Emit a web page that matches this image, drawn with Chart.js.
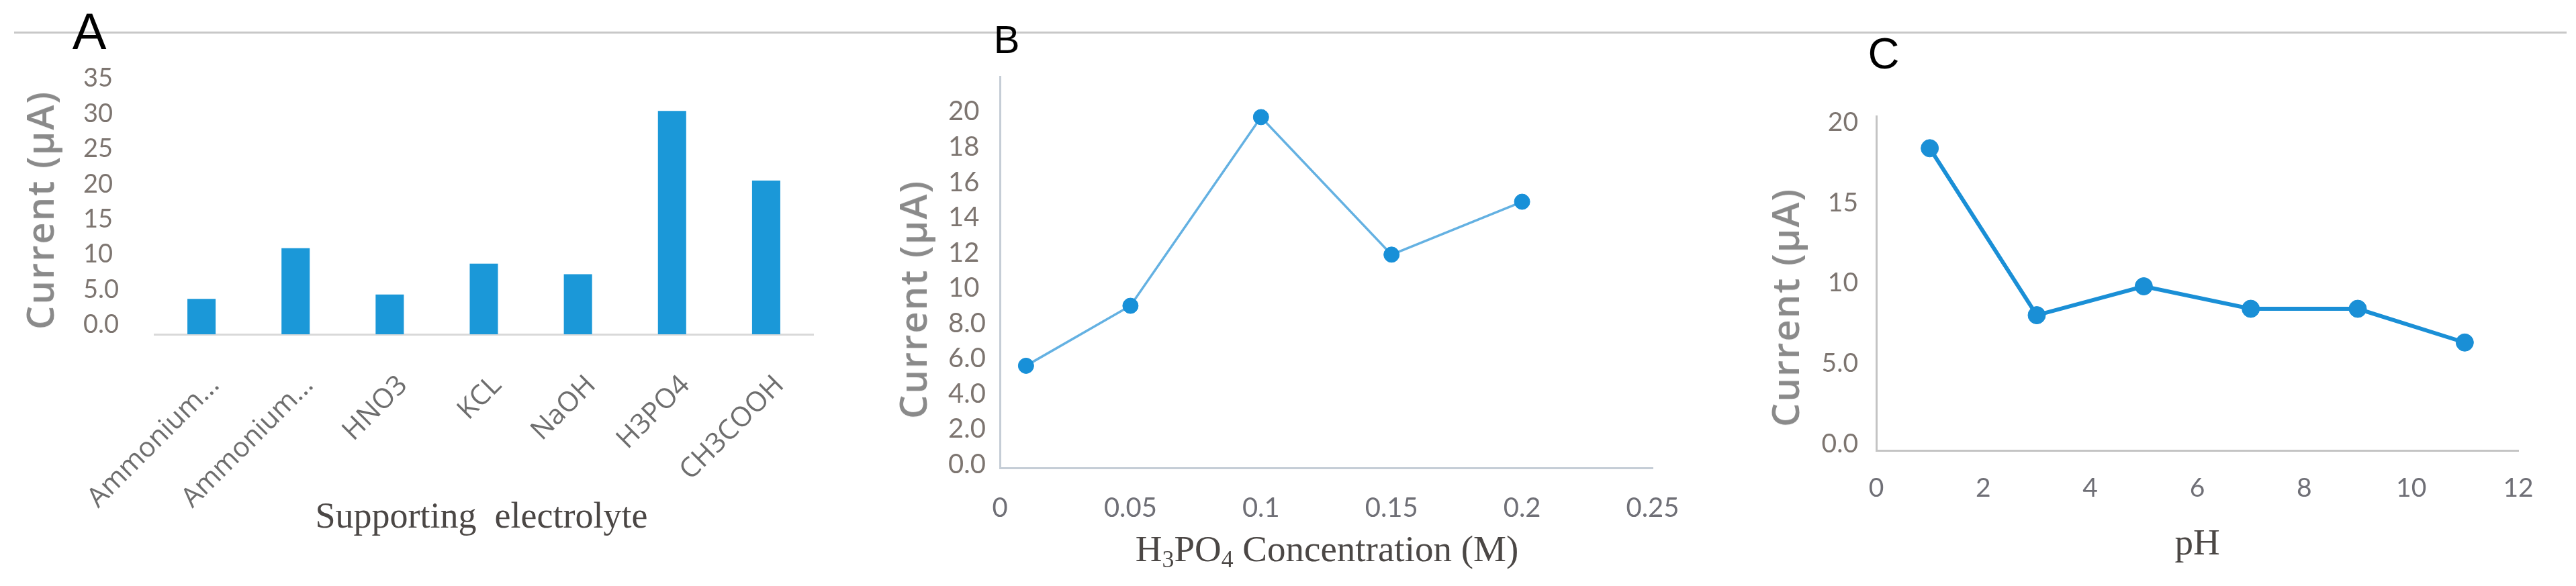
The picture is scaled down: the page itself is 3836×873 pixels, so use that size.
<!DOCTYPE html>
<html>
<head>
<meta charset="utf-8">
<script src="https://cdn.jsdelivr.net/npm/chart.js@4.4.1/dist/chart.umd.min.js"></script>
<style>
  html, body { margin: 0; padding: 0; background: #fff; }
  body { width: 3836px; height: 873px; position: relative; overflow: hidden; }
  canvas { position: absolute; top: 0; }
  .rule { position: absolute; left: 21px; top: 47px; width: 3801px; height: 3px; background: #c8c8c8; }
  .panel { position: absolute; font-family: "Liberation Sans", Arial, sans-serif; color: #000; line-height: 1; transform: translate(-50%, -50%); }
  .ytitle { position: absolute; font-family: "Open Sans", "DejaVu Sans", sans-serif; font-weight: 600; font-size: 56px; letter-spacing: 2px; color: #8a8a8a; white-space: nowrap; line-height: 1; transform: translate(-50%, -50%) rotate(-90deg); }
  .xtitle { position: absolute; font-family: "Liberation Serif", "Times New Roman", serif; font-size: 54px; color: #4b4745; white-space: pre; line-height: 1; transform: translate(-50%, -50%); }
  .xtitle sub { font-size: 0.65em; vertical-align: -0.25em; }
</style>
</head>
<body>
<div class="rule"></div>
<canvas id="chartA" width="1300" height="873" style="left:0px"></canvas>
<canvas id="chartB" width="1250" height="873" style="left:1300px"></canvas>
<canvas id="chartC" width="1286" height="873" style="left:2550px"></canvas>

<div class="panel" style="left:133px; top:47px; font-size:76px;">A</div>
<div class="panel" style="left:1499px; top:59px; font-size:58px;">B</div>
<div class="panel" style="left:2805px; top:79px; font-size:65px;">C</div>

<div class="ytitle" style="left:58px; top:313px;">Current (µA)</div>
<div class="ytitle" style="left:1358px; top:446px;">Current (µA)</div>
<div class="ytitle" style="left:2657px; top:458px;">Current (µA)</div>

<div class="xtitle" style="left:717px; top:768px;">Supporting  electrolyte</div>
<div class="xtitle" style="left:1976px; top:821px; font-size:55px;">H<sub>3</sub>PO<sub>4</sub> Concentration (M)</div>
<div class="xtitle" style="left:3272px; top:807px; font-size:55px;">pH</div>

<script>
// A: supporting electrolyte
const electrolytes = ["Ammonium...", "Ammonium...", "HNO3", "KCL", "NaOH", "H3PO4", "CH3COOH"];
const electrolyteCurrent = [3.7, 10.9, 4.3, 8.7, 7.2, 30.4, 20.5];
const aYTicks = [0, 5, 10, 15, 20, 25, 30, 35];
const aYLabels = ["0.0", "5.0", "10", "15", "20", "25", "30", "35"];

// B: H3PO4 concentration
const concentration = [0.01, 0.05, 0.1, 0.15, 0.2];
const concentrationCurrent = [5.6, 9.0, 19.7, 11.9, 14.9];
const bXTicks = [0, 0.05, 0.1, 0.15, 0.2, 0.25];
const bXLabels = ["0", "0.05", "0.1", "0.15", "0.2", "0.25"];
const bYTicks = [0, 2, 4, 6, 8, 10, 12, 14, 16, 18, 20];
const bYLabels = ["0.0", "2.0", "4.0", "6.0", "8.0", "10", "12", "14", "16", "18", "20"];

// C: pH
const phValues = [1, 3, 5, 7, 9, 11];
const phCurrent = [18.4, 8.0, 9.8, 8.4, 8.4, 6.3];
const cXTicks = [0, 2, 4, 6, 8, 10, 12];
const cXLabels = ["0", "2", "4", "6", "8", "10", "12"];
const cYTicks = [0, 5, 10, 15, 20];
const cYLabels = ["0.0", "5.0", "10", "15", "20"];

const tickFont = { family: "Lato, 'Liberation Sans', sans-serif", size: 38 };
const tickColor = "#7d7570";

// fixed axis size, no automatic label padding
function fixSize(size) {
  return function (scale) {
    if (scale.isHorizontal()) scale.height = size;
    else scale.width = size;
    scale.paddingLeft = 0;
    scale.paddingRight = 0;
    scale.paddingTop = 0;
    scale.paddingBottom = 0;
  };
}

function setTicks(values) {
  return function (scale) {
    scale.ticks = values.map(v => ({ value: v }));
  };
}

const common = {
  responsive: false,
  animation: false,
  events: [],
  plugins: { legend: { display: false }, tooltip: { enabled: false } }
};

// ---- A ----
new Chart(document.getElementById("chartA"), {
  type: "bar",
  data: {
    labels: electrolytes,
    datasets: [{
      data: electrolyteCurrent,
      backgroundColor: "#1b98d8",
      base: -1.34,
      categoryPercentage: 1,
      barPercentage: 0.3
    }]
  },
  options: {
    ...common,
    layout: { padding: { left: 124, top: 117, right: 89, bottom: 0 } },
    scales: {
      x: {
        grid: { display: false, drawTicks: false },
        border: { display: true, color: "#d9d9d9", width: 3 },
        ticks: {
          autoSkip: false, minRotation: 45, maxRotation: 45, padding: 52, labelOffset: 20,
          font: { family: "'Open Sans', sans-serif", size: 41 }, color: "#6e6e6e"
        },
        afterFit: fixSize(375)
      },
      y: {
        min: -1.34, max: 35,
        grid: { display: false, drawTicks: false },
        border: { display: false },
        afterBuildTicks: setTicks(aYTicks),
        ticks: { autoSkip: false, crossAlign: "far", font: tickFont, color: tickColor,
          callback: (v, i) => aYLabels[i] },
        afterFit: fixSize(106)
      }
    }
  }
});

// ---- B ----
new Chart(document.getElementById("chartB"), {
  type: "line",
  data: {
    datasets: [{
      data: concentration.map((c, i) => ({ x: c, y: concentrationCurrent[i] })),
      borderColor: "#64b1e2",
      borderWidth: 3.5,
      pointRadius: 11.5,
      pointBorderWidth: 1,
      pointBackgroundColor: "#1890d8",
      pointBorderColor: "#1890d8",
      tension: 0
    }]
  },
  options: {
    ...common,
    layout: { padding: { left: 112, top: 114, right: 89, bottom: 0 } },
    scales: {
      x: {
        type: "linear", min: 0, max: 0.25,
        grid: { display: false, drawTicks: false },
        border: { display: true, color: "#c5cdd6", width: 3 },
        afterBuildTicks: setTicks(bXTicks),
        ticks: { autoSkip: false, maxRotation: 0, padding: 36, font: { ...tickFont, size: 40 }, color: "#6f6f76",
          callback: (v, i) => bXLabels[i] },
        afterFit: fixSize(176)
      },
      y: {
        min: -0.19, max: 22,
        grid: { display: false, drawTicks: false },
        border: { display: true, color: "#c5cdd6", width: 3 },
        afterBuildTicks: setTicks(bYTicks),
        ticks: { autoSkip: false, crossAlign: "far", font: { ...tickFont, size: 40 }, color: tickColor,
          callback: (v, i) => bYLabels[i] },
        afterFit: fixSize(77)
      }
    }
  }
});

// ---- C ----
new Chart(document.getElementById("chartC"), {
  type: "line",
  data: {
    datasets: [{
      data: phValues.map((p, i) => ({ x: p, y: phCurrent[i] })),
      borderColor: "#1a8fd6",
      borderWidth: 6,
      pointRadius: 13,
      pointBorderWidth: 1,
      pointBackgroundColor: "#1a8fd6",
      pointBorderColor: "#1a8fd6",
      tension: 0
    }]
  },
  options: {
    ...common,
    layout: { padding: { left: 94, top: 173, right: 86, bottom: 0 } },
    scales: {
      x: {
        type: "linear", min: 0, max: 12,
        grid: { display: false, drawTicks: false },
        border: { display: true, color: "#c4c4c4", width: 3 },
        afterBuildTicks: setTicks(cXTicks),
        ticks: { autoSkip: false, maxRotation: 0, padding: 33, font: { ...tickFont, size: 39 }, color: "#6f6f76",
          callback: (v, i) => cXLabels[i] },
        afterFit: fixSize(202)
      },
      y: {
        min: -0.42, max: 20.4,
        grid: { display: false, drawTicks: false },
        border: { display: true, color: "#c4c4c4", width: 3 },
        afterBuildTicks: setTicks(cYTicks),
        ticks: { autoSkip: false, crossAlign: "near", padding: 27, font: { ...tickFont, size: 39 }, color: tickColor,
          callback: (v, i) => cYLabels[i] },
        afterFit: fixSize(150)
      }
    }
  }
});
</script>
</body>
</html>
